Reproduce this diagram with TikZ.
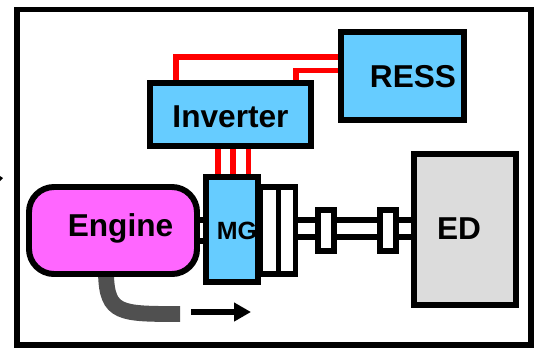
\documentclass[tikz,border=0pt]{standalone}
\usepackage{fontspec}
\setmainfont{Liberation Sans}
\usetikzlibrary{arrows.meta,backgrounds}
\definecolor{boxblue}{HTML}{66CCFF}
\definecolor{enginepink}{HTML}{FF66FF}
\definecolor{edgray}{HTML}{DCDCDC}
\definecolor{exhaustgray}{HTML}{505050}
\tikzset{
	part/.style={draw=black,line width=3.4pt,inner sep=0pt,outer sep=0pt,minimum width=#1},
	part/.default=1cm,
	partname/.style={anchor=base,inner sep=0pt,font=\bfseries\fontsize{18}{20}\selectfont},
	powerline/.style={draw=red,line width=3pt},
	shaftline/.style={draw=black,line width=3.4pt}
}

\begin{document}
\begin{tikzpicture}
\useasboundingbox (0,0) rectangle (10.8,7);
\fill (0,3.38) -- (0.06,3.44) -- (0,3.48) -- cycle;
\draw[line width=3.4pt] (0.34,0.10) rectangle (10.62,6.81);
% boxes
\node[part=3.36cm,minimum height=1.74cm,fill=enginepink,rounded corners=0.5cm] (engine) at (2.26,2.39) {};
\node[part=1.04cm,minimum height=2.10cm,fill=boxblue] (mg) at (4.64,2.41) {};
\node[part=3.22cm,minimum height=1.26cm,fill=boxblue] (inverter) at (4.61,4.71) {};
\node[part=2.46cm,minimum height=1.76cm,fill=boxblue] (ress) at (8.05,5.48) {};
\node[part=2.04cm,minimum height=3.02cm,fill=edgray] (ed) at (9.30,2.41) {};
\node[part=0.37cm,minimum height=1.74cm,fill=white] (plateA) at (5.385,2.39) {};
\node[part=0.34cm,minimum height=1.74cm,fill=white] (plateB) at (5.74,2.39) {};
\node[part=0.32cm,minimum height=0.82cm,fill=white] (jointA) at (6.52,2.39) {};
\node[part=0.32cm,minimum height=0.82cm,fill=white] (jointB) at (7.76,2.39) {};
% names
\node[partname] (enginename) at (2.41,2.28) {Engine};
\node[partname] (invertername) at (4.61,4.46) {Inverter};
\node[partname] (ressname) at (8.26,5.26) {RESS};
\node[partname,font=\bfseries\fontsize{14.2}{16}\selectfont] (mgname) at (4.74,2.22) {MG};
\node[partname] (edname) at (9.18,2.22) {ED};
% exhaust ends
\coordinate (exhaustend) at (3.60,0.72);
\coordinate (flowstart) at (3.82,0.76);
\coordinate (flowend) at (5.02,0.76);
% wires and shafts go under the boxes
\begin{scope}[on background layer]
\draw[powerline] (3.52,0 |- inverter.north) |- (ress.west |- 0,5.86);
\draw[powerline] (5.92,0 |- inverter.north) |- (ress.west |- 0,5.59);
\foreach \wirex in {4.36,4.66,4.97}
	\draw[powerline] (\wirex,0 |- inverter.south) -- (\wirex,0 |- mg.north);
\foreach \shafty in {2.60,2.18}
	\draw[shaftline] (engine.east |- 0,\shafty) -- (mg.west |- 0,\shafty);
\foreach \shafty in {2.60,2.26} {
	\draw[shaftline] (plateB.east |- 0,\shafty) -- (jointA.west |- 0,\shafty);
	\draw[shaftline] (jointA.east |- 0,\shafty) -- (jointB.west |- 0,\shafty);
	\draw[shaftline] (jointB.east |- 0,\shafty) -- (ed.west |- 0,\shafty);
}
\draw[exhaustgray,line width=9pt] (2.12,0 |- engine.south) .. controls (2.14,0.72) and (2.40,0.72) .. (exhaustend);
\end{scope}
\draw[-{Triangle[length=0.34cm,width=0.36cm]},line width=3.4pt] (flowstart) -- (flowend);
\end{tikzpicture}
\end{document}
